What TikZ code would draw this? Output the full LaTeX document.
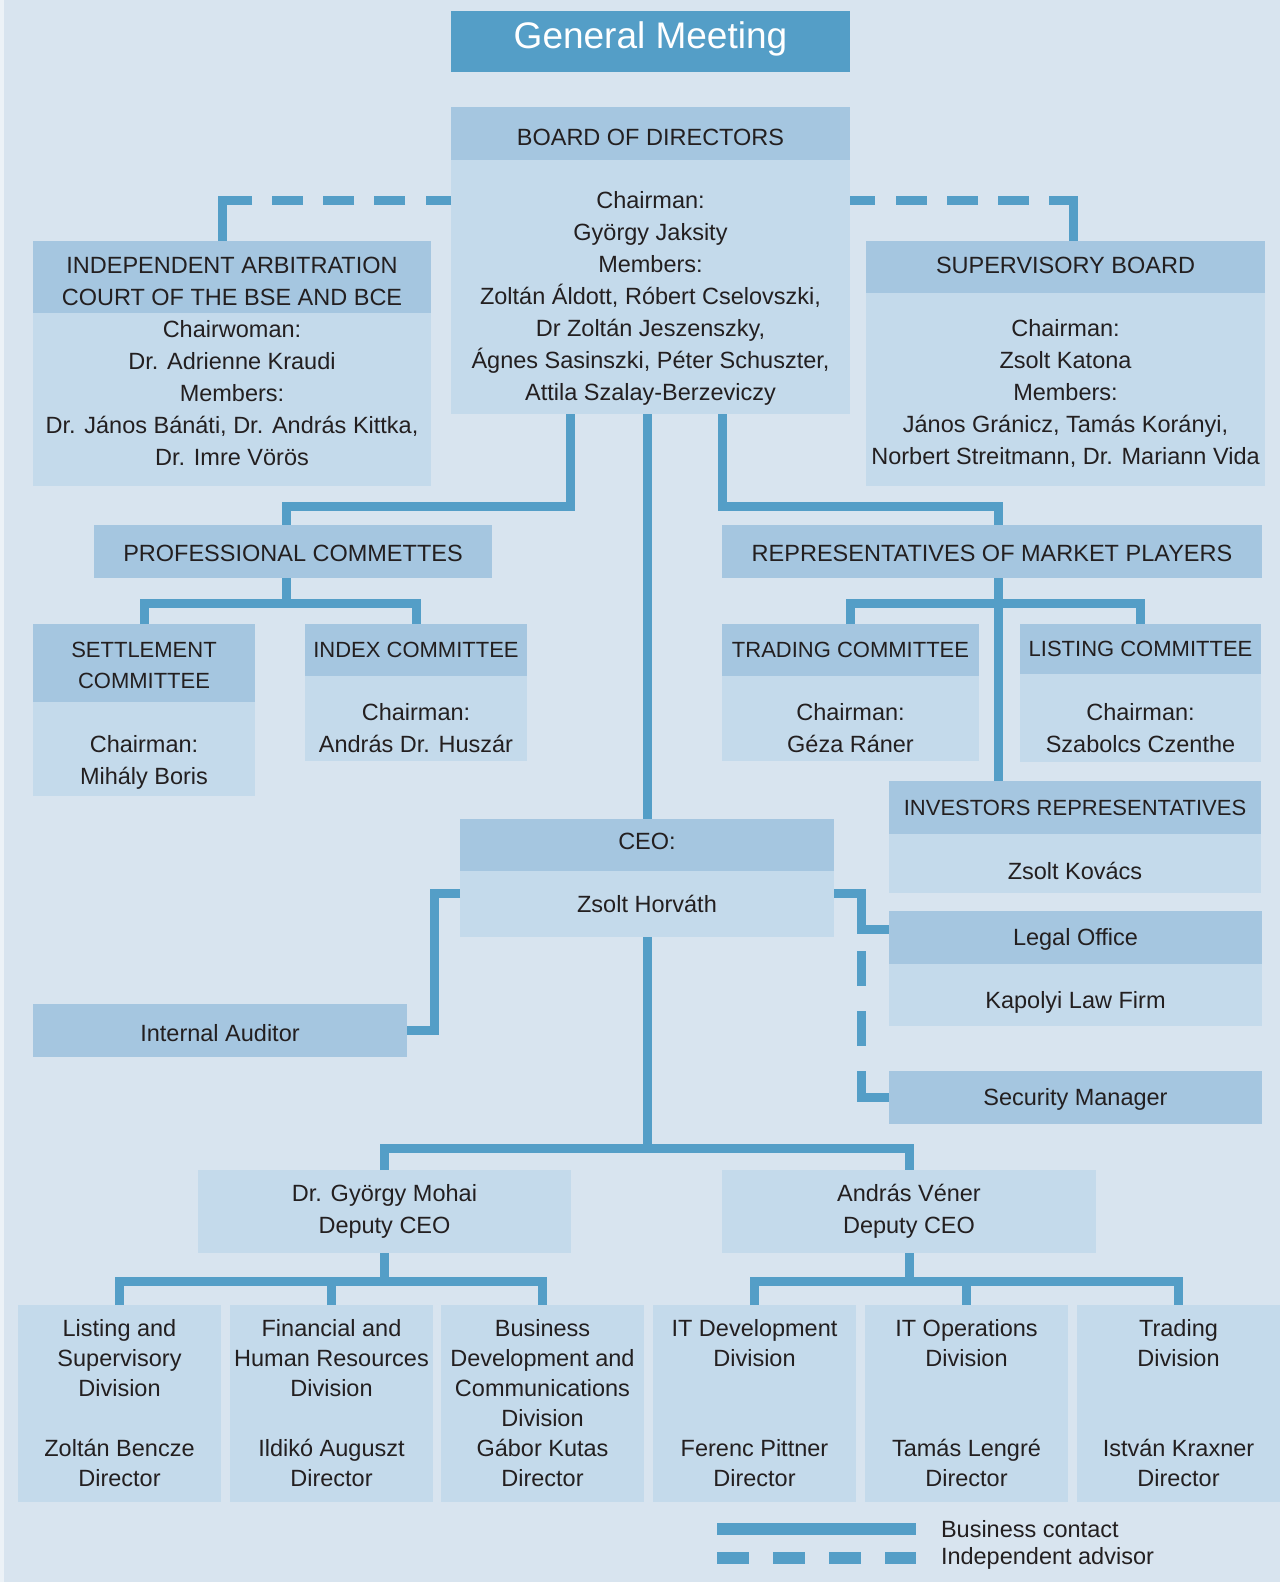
\documentclass[tikz,border=0pt]{standalone}
\usepackage{fontspec}
\setmainfont{Liberation Sans}
\usepackage{tikz}
\usetikzlibrary{positioning,calc}
\definecolor{pagebg}{RGB}{216,228,239}
\definecolor{edgebg}{RGB}{236,242,247}
\definecolor{headblue}{RGB}{165,198,224}
\definecolor{bodyblue}{RGB}{196,218,235}
\definecolor{linkblue}{RGB}{84,158,199}
\definecolor{ink}{RGB}{35,31,32}
% invisible struts to nudge text inside a fixed box
\newcommand{\padtop}[1]{\rule{0pt}{#1pt}}
\newcommand{\padbot}[1]{\rule[-#1pt]{0pt}{#1pt}}

\begin{document}
\begin{tikzpicture}[
    x=1pt, y=-1pt,
    every node/.style={inner sep=0pt, outer sep=0pt, align=center, text=ink},
    head/.style={fill=headblue, anchor=north west, font=\fontsize{23.5}{32}\selectfont},
    smallhead/.style={head, font=\fontsize{22}{31}\selectfont},
    body/.style={fill=bodyblue, font=\fontsize{23.5}{32}\selectfont},
    division/.style={fill=bodyblue, anchor=north west, minimum width=203, minimum height=197, font=\fontsize{23.5}{30}\selectfont},
    contact/.style={draw=linkblue, line width=9pt},
    advisor/.style={contact, dash pattern=on 25pt off 21pt on 31pt off 20pt on 31pt off 20pt on 31pt off 20pt on 90pt off 10pt}
]
    % page
    \useasboundingbox (0,0) rectangle (1280,1582);
    \fill[pagebg] (0,0) rectangle (1280,1582);
    \fill[edgebg] (0,0) rectangle (4,1582);

    % top
    \node[fill=linkblue, anchor=north west, minimum width=399, minimum height=61, text=white, font=\fontsize{37}{40}\selectfont] (gm) at (451,11) {General Meeting\padbot{12}};
    \node[head, minimum width=399, minimum height=53] (board) at (451,107) {\padtop{25}BOARD OF DIRECTORS};
    \node[body, minimum width=399, minimum height=254, below=0pt of board] (boardbody) {\padtop{39}Chairman:\\György Jaksity\\Members:\\Zoltán Áldott, Róbert Cselovszki,\\Dr Zoltán Jeszenszky,\\Ágnes Sasinszki, Péter Schuszter,\\Attila Szalay-Berzeviczy};

    \node[head, minimum width=398, minimum height=72] (iac) at (33,241) {\padtop{25}INDEPENDENT ARBITRATION\\COURT OF THE BSE AND BCE};
    \node[body, minimum width=398, minimum height=173, below=0pt of iac] (iacbody) {Chairwoman:\\Dr. Adrienne Kraudi\\Members:\\Dr. János Bánáti, Dr. András Kittka,\\Dr. Imre Vörös\padbot{14}};

    \node[head, minimum width=399, minimum height=52] (super) at (866,241) {SUPERVISORY BOARD\padbot{4}};
    \node[body, minimum width=399, minimum height=193, below=0pt of super] (superbody) {\padtop{25}Chairman:\\Zsolt Katona\\Members:\\János Gránicz, Tamás Korányi,\\Norbert Streitmann, Dr. Mariann Vida};

    % committees
    \node[head, minimum width=398, minimum height=53] (prof) at (94,525) {\padtop{21}PROFESSIONAL COMMETTES};
    \node[head, minimum width=540, minimum height=53] (rep) at (722,525) {\padtop{21}REPRESENTATIVES OF MARKET PLAYERS};

    \node[smallhead, minimum width=222, minimum height=78] (settle) at (33,624) {\padtop{20}SETTLEMENT\\COMMITTEE};
    \node[body, minimum width=222, minimum height=94, below=0pt of settle] (settlebody) {\padtop{43}Chairman:\\Mihály Boris};
    \node[smallhead, minimum width=222, minimum height=52] (index) at (305,624) {INDEX COMMITTEE};
    \node[body, minimum width=222, minimum height=85, below=0pt of index] (indexbody) {\padtop{37}Chairman:\\András Dr. Huszár};
    \node[smallhead, minimum width=257, minimum height=52] (trading) at (722,624) {TRADING COMMITTEE};
    \node[body, minimum width=257, minimum height=85, below=0pt of trading] (tradingbody) {\padtop{37}Chairman:\\Géza Ráner};
    \node[smallhead, minimum width=241, minimum height=50] (listing) at (1020,624) {LISTING COMMITTEE};
    \node[body, minimum width=241, minimum height=88, below=0pt of listing] (listingbody) {\padtop{37}Chairman:\\Szabolcs Czenthe};
    \node[smallhead, minimum width=372, minimum height=53] (investors) at (889,781) {INVESTORS REPRESENTATIVES};
    \node[body, minimum width=372, minimum height=59, below=0pt of investors] (investorsbody) {\padtop{33}Zsolt Kovács};

    % management
    \node[head, minimum width=374, minimum height=52] (ceo) at (460,819) {CEO:\padbot{8}};
    \node[body, minimum width=374, minimum height=66, below=0pt of ceo] (ceobody) {Zsolt Horváth};
    \node[head, minimum width=373, minimum height=53] (legal) at (889,911) {\padtop{21}Legal Office};
    \node[body, minimum width=373, minimum height=62, below=0pt of legal] (legalbody) {\padtop{31}Kapolyi Law Firm};
    \node[head, minimum width=374, minimum height=53] (auditor) at (33,1004) {\padtop{23}Internal Auditor};
    \node[head, minimum width=373, minimum height=53] (security) at (889,1071) {\padtop{21}Security Manager};

    \node[body, anchor=north west, minimum width=373, minimum height=83] (mohai) at (198,1170) {Dr. György Mohai\\Deputy CEO};
    \node[body, anchor=north west, minimum width=374, minimum height=83] (vener) at (722,1170) {András Véner\\Deputy CEO};

    \node[division] (div1) at (18,1305) {Listing and\\Supervisory\\Division\\ \mbox{}\\Zoltán Bencze\\Director};
    \node[division] (div2) at (230,1305) {Financial and\\Human Resources\\Division\\ \mbox{}\\Ildikó Auguszt\\Director};
    \node[division] (div3) at (441,1305) {Business\\Development and\\Communications\\Division\\Gábor Kutas\\Director};
    \node[division] (div4) at (653,1305) {IT Development\\Division\\ \mbox{}\\ \mbox{}\\Ferenc Pittner\\Director};
    \node[division] (div5) at (865,1305) {IT Operations\\Division\\ \mbox{}\\ \mbox{}\\Tamás Lengré\\Director};
    \node[division] (div6) at (1077,1305) {Trading\\Division\\ \mbox{}\\ \mbox{}\\István Kraxner\\Director};

    % connectors
    \draw[advisor] ([yshift=-40]boardbody.north west) -| ([xshift=-10]iac.north);
    \draw[advisor] ([yshift=-40]boardbody.north east) -| ([xshift=8]super.north);

    \draw[contact] ([xshift=-80]boardbody.south) -- ++(0,92) -| ([xshift=-7]prof.north);
    \draw[contact] ([xshift=72]boardbody.south) -- ++(0,92) -| ([xshift=6]rep.north);
    \draw[contact] (boardbody.south -| ceo.north) -- (ceo.north);

    \draw[contact] ([xshift=-7]prof.south) -- ++(0,25) coordinate (pj);
    \draw[contact] (settle.north) |- (pj) -| (index.north);

    \path (rep.south) ++(6,0) coordinate (rj);
    \draw[contact] (rj) -- (rj |- investors.north);
    \draw[contact] (trading.north) |- ($(rj)+(0,25)$) -| (listing.north);

    \draw[contact] ($(ceobody.north west)+(0,22)$) -- ++(-26,0) |- (auditor.east);
    \draw[contact] ($(ceobody.north east)+(0,22)$) -- ++(27,0) coordinate (lt) |- ([yshift=8]legal.west);
    \draw[contact, dash pattern=on 55pt off 25pt on 35pt off 25pt on 35pt off 60pt] (security.west) -| (lt);

    \draw[contact] (ceobody.south) -- ++(0,211) coordinate (cj);
    \draw[contact] (mohai.north) |- (cj) -| (vener.north);

    \draw[contact] (mohai.south) -- ++(0,28) coordinate (mj);
    \draw[contact] (div1.north) |- (mj) -| (div3.north);
    \draw[contact] (div2.north) -- (div2.north |- mj);
    \draw[contact] (vener.south) -- ++(0,28) coordinate (vj);
    \draw[contact] (div4.north) |- (vj) -| (div6.north);
    \draw[contact] (div5.north) -- (div5.north |- vj);

    % legend
    \node[anchor=west, font=\fontsize{23.5}{28}\selectfont] (bclabel) at (941,1529) {Business contact};
    \node[anchor=west, font=\fontsize{23.5}{28}\selectfont] (ialabel) at (941,1558) {Independent advisor};
    \coordinate (bcstart) at (717,1529);
    \coordinate (iastart) at (717,1558);
    \draw[contact, line width=12pt] (bcstart) -- ($(bclabel.west)+(-25,0)$);
    \draw[contact, line width=12pt, dash pattern=on 32pt off 24pt] (iastart) -- ($(ialabel.west)+(-25,0)$);
\end{tikzpicture}
\end{document}
